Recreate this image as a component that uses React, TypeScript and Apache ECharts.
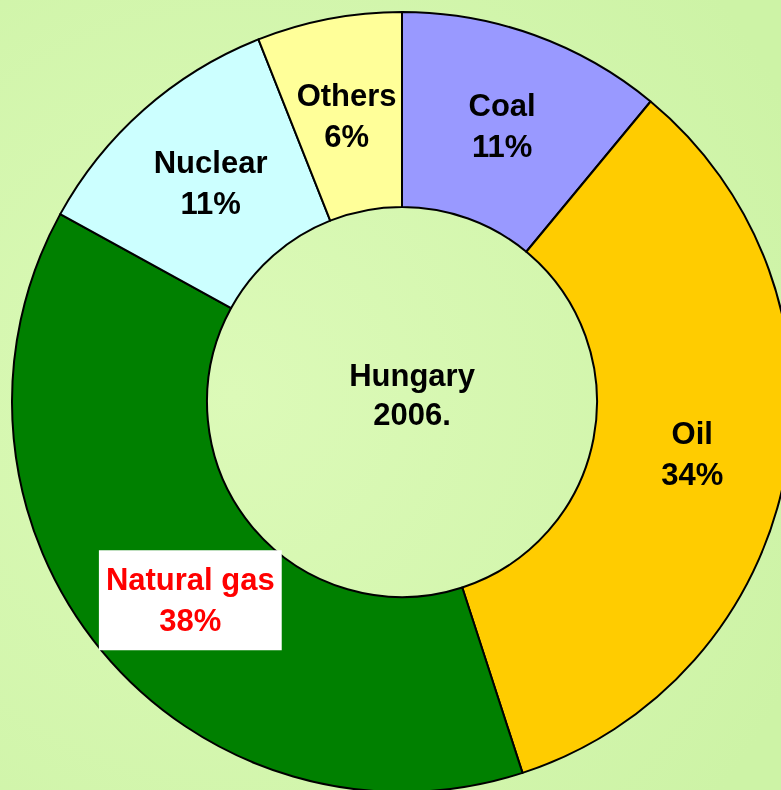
import React, { useEffect, useRef } from "react";
import * as echarts from "echarts";

const categories = ["Coal", "Oil", "Natural gas", "Nuclear", "Others"];
const values = [11, 34, 38, 11, 6];
const colors = ["#9999ff", "#ffcc00", "#008000", "#ccffff", "#ffff99"];
const centerTitle = "Hungary\n2006.";

export default function App() {
  const ref = useRef<HTMLDivElement>(null);
  useEffect(() => {
    if (!ref.current) return;
    const chart = echarts.init(ref.current, null, { renderer: "svg" });
    const baseLabel = {
      show: true,
      position: "inside",
      formatter: (p: any) => `${p.name}\n${p.value}%`,
      color: "#000",
      fontFamily: "Liberation Sans, Arial, sans-serif",
      fontWeight: "bold",
      fontSize: 31,
      lineHeight: 41,
    };
    const offsets: Record<string, number[]> = {
      Coal: [0, 2],
      Oil: [0, -3],
      "Natural gas": [16, 10],
      Nuclear: [4, 3],
      Others: [0, 4],
    };
    const data = categories.map((name, i) => {
      const item: any = {
        name,
        value: values[i],
        itemStyle: { color: colors[i] },
        label: { offset: offsets[name] },
      };
      if (name === "Natural gas") {
        item.label = {
          offset: offsets[name],
          color: "#ff0000",
          backgroundColor: "#ffffff",
          padding: [9, 7, 9, 7],
        };
      }
      return item;
    });
    chart.setOption({
      animation: false,
      backgroundColor: {
        type: "radial",
        x: 0.3,
        y: 0.5,
        r: 0.8,
        colorStops: [
          { offset: 0, color: "#dcfab8" },
          { offset: 1, color: "#cdf3a6" },
        ],
      },
      graphic: [
        {
          type: "text",
          x: 412,
          y: 395,
          style: {
            text: centerTitle,
            align: "center",
            verticalAlign: "middle",
            fill: "#000",
            font: "bold 31px 'Liberation Sans', Arial, sans-serif",
            lineHeight: 39,
          },
        },
      ],
      series: [
        {
          type: "pie",
          center: [402, 402],
          radius: [195, 390],
          startAngle: 90,
          clockwise: true,
          avoidLabelOverlap: false,
          labelLine: { show: false },
          itemStyle: { borderColor: "#000", borderWidth: 2 },
          label: baseLabel,
          emphasis: { disabled: true },
          data,
        },
      ],
    });
    return () => chart.dispose();
  }, []);
  return (
    <div
      ref={ref}
      style={{ position: "fixed", left: 0, top: 0, width: 781, height: 790 }}
    />
  );
}
